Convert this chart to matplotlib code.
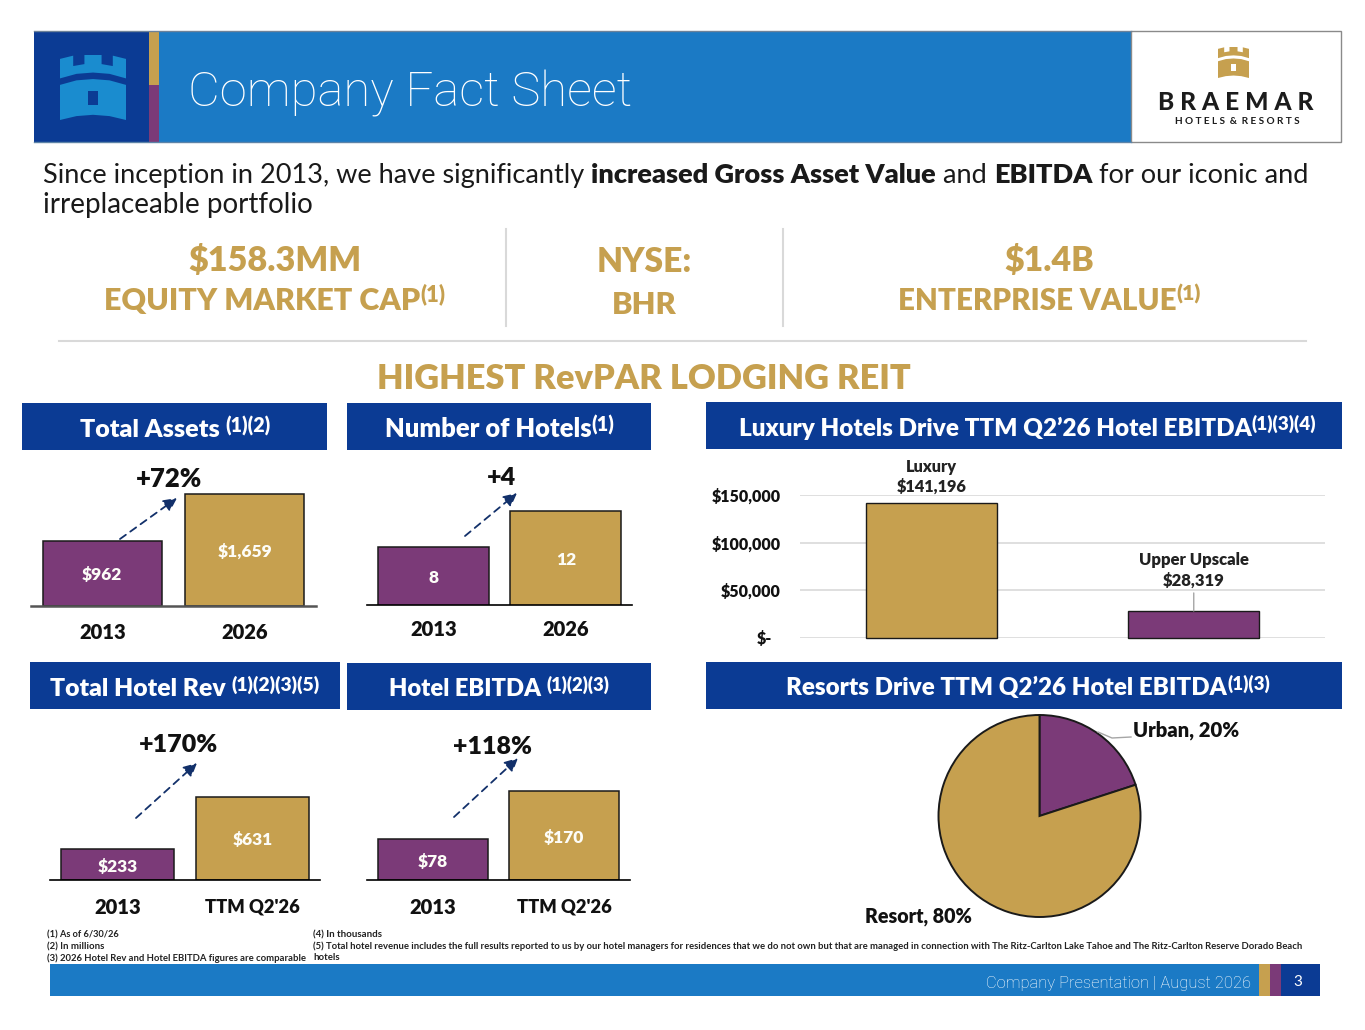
import matplotlib
matplotlib.use("Agg")
import matplotlib.pyplot as plt
from matplotlib.patches import Rectangle, Polygon
from matplotlib.transforms import ScaledTranslation

W, H = 1365, 1030
FONT = ['Lato', 'DejaVu Sans']
LIGHTFONT = ['Roboto', 'DejaVu Sans']
plt.rcParams['font.family'] = FONT

GOLD = '#c6a04f'
PURPLE = '#7b3a78'
NAVY = '#0b3b94'
BLUE = '#1b7ac5'
LIGHT = '#1a8ccf'
GREY = '#d9d9d9'
INK = '#111111'
WHITE = '#fdfdf8'
HEAVY = 800

# ---- data ----
assets_cats = ['2013', '2026']
assets_vals = [962, 1659]
assets_lbls = ['$962', '$1,659']
hotels_cats = ['2013', '2026']
hotels_vals = [8, 12]
hotels_lbls = ['8', '12']
rev_cats = ['2013', "TTM Q2'26"]
rev_vals = [233, 631]
rev_lbls = ['$233', '$631']
ebitda_cats = ['2013', "TTM Q2'26"]
ebitda_vals = [78, 170]
ebitda_lbls = ['$78', '$170']
seg_cats = ['Luxury', 'Upper Upscale']
seg_vals = [141196, 28319]
seg_lbls = ['$141,196', '$28,319']
seg_ticks = [0, 50000, 100000, 150000]
seg_ticklabels = ['$-', '$50,000', '$100,000', '$150,000']
pie_cats = ['Urban', 'Resort']
pie_vals = [20, 80]

fig = plt.figure(figsize=(W / 100, H / 100), dpi=100, facecolor='white')
renderer = fig.canvas.get_renderer()


def axpx(x0, y0, x1, y1, **kw):
    return fig.add_axes([x0 / W, 1 - y1 / H, (x1 - x0) / W, (y1 - y0) / H], **kw)


ov = axpx(0, 0, W, H, zorder=5)
ov.set_xlim(0, W)
ov.set_ylim(H, 0)
ov.axis('off')
ov.patch.set_alpha(0)


def rect(x0, y0, x1, y1, color, **kw):
    ov.add_patch(Rectangle((x0, y0), x1 - x0, y1 - y0, facecolor=color, edgecolor=kw.pop('edgecolor', 'none'), **kw))


def runs(x, y, parts, size, color=INK, ha='left', width=None, font=None):
    """parts: list of (string, weight, rel_size, dy_px, color or None)"""
    fam = font or FONT
    items = []
    for s, wt, rel, dy, c in parts:
        t = ov.text(0, y - dy, s, fontsize=size * rel, fontweight=wt, color=c or color,
                    va='center_baseline', ha='left', family=fam)
        items.append((t, rel))
    def widths():
        return [t.get_window_extent(renderer).width for t, _ in items]
    if width:
        k = width / sum(widths())
        for t, rel in items:
            t.set_fontsize(size * rel * k)
    ws = widths()
    tot = sum(ws)
    cx = x if ha == 'left' else x - tot / 2 if ha == 'center' else x - tot
    for (t, _), w in zip(items, ws):
        t.set_x(cx)
        cx += w


def one(x, y, s, size, weight='bold', color=INK, ha='left', width=None, font=None):
    runs(x, y, [(s, weight, 1, 0, None)], size, color, ha, width, font)


def castle(x, y, w, h, color, hole):
    def P(pts, c=color):
        ov.add_patch(Polygon([(x + a * w, y + b * h) for a, b in pts], closed=True, facecolor=c, edgecolor='none'))
    P([(0, .06), (.2, .01), (.2, .17), (.37, .14), (.37, 0), (.63, 0), (.63, .14), (.8, .17), (.8, .01), (1, .06),
       (1, .36), (.75, .29), (.5, .27), (.25, .29), (0, .36)])
    P([(0, .46), (.25, .39), (.5, .37), (.75, .39), (1, .46), (1, 1), (.75, .94), (.5, .92), (.25, .94), (0, 1)])
    P([(.42, .55), (.58, .55), (.58, .77), (.42, .77)], hole)


# ---- header ----
rect(34, 31, 1131, 142, BLUE)
ov.plot([34, 1131], [31, 31], color='#6d8299', lw=1)
ov.plot([34, 1131], [142, 142], color='#5d84a8', lw=1)
rect(34, 31, 149, 142, NAVY)
rect(149, 31, 159, 85, GOLD)
rect(149, 85, 159, 142, PURPLE)
castle(60, 55, 66, 65, LIGHT, NAVY)
one(188, 88, 'Company Fact Sheet', 34, weight='light', color='white', width=444, font=LIGHTFONT)
rect(1131, 31, 1341, 142, 'white', edgecolor='#8a8a8a', linewidth=1)
castle(1218, 47, 31, 31, GOLD, 'white')
one(1236, 101, 'B R A E M A R', 18, weight=900, color='#1c1c1c', ha='center', width=155)
one(1237, 120, 'H O T E L S  &  R E S O R T S', 7, color='#1c1c1c', ha='center', width=126)

# ---- intro ----
runs(43, 173, [('Since inception in 2013, we have significantly ', 'normal', 1, 0, None),
               ('increased Gross Asset Value', HEAVY, 1, 0, None),
               (' and ', 'normal', 1, 0, None),
               ('EBITDA', HEAVY, 1, 0, None),
               (' for our iconic and', 'normal', 1, 0, None)], 19, color='#1a1a1a', width=1266)
one(43, 203, 'irreplaceable portfolio', 19, weight='normal', color='#1a1a1a', width=270)

# ---- headline figures ----
one(275, 258, '$158.3MM', 25, weight=HEAVY, color=GOLD, ha='center', width=174)
runs(275, 298, [('EQUITY MARKET CAP', HEAVY, 1, 0, None), ('(1)', HEAVY, .72, 6, None)], 22, GOLD, 'center', 340)
one(644, 259, 'NYSE:', 25, weight=HEAVY, color=GOLD, ha='center', width=96)
one(644, 302, 'BHR', 25, weight=HEAVY, color=GOLD, ha='center', width=65)
one(1049, 258, '$1.4B', 25, weight=HEAVY, color=GOLD, ha='center', width=90)
runs(1049, 298, [('ENTERPRISE VALUE', HEAVY, 1, 0, None), ('(1)', HEAVY, .72, 6, None)], 22, GOLD, 'center', 302)
for xv in (506, 783):
    ov.plot([xv, xv], [229, 326], color=GREY, lw=1.5)
ov.plot([59, 1306], [341, 341], color=GREY, lw=1.5)
one(644, 376, 'HIGHEST RevPAR LODGING REIT', 26, weight=HEAVY, color=GOLD, ha='center', width=532)


# ---- section bars ----
def section(x0, y0, x1, y1, main, sup, cx, width, yt):
    rect(x0, y0, x1, y1, NAVY)
    runs(cx, yt, [(main, HEAVY, 1, 0, None), (sup, HEAVY, .78, 4, None)], 18, 'white', 'center', width)


section(22, 403, 327, 450, 'Total Assets ', '(1)(2)', 175, 190, 428)
section(347, 403, 651, 450, 'Number of Hotels', '(1)', 499.5, 229, 427)
section(706, 402, 1342, 449, 'Luxury Hotels Drive TTM Q2\u201926 Hotel EBITDA', '(1)(3)(4)', 1027.5, 577, 426)
section(30, 662, 340, 709, 'Total Hotel Rev ', '(1)(2)(3)(5)', 185, 270, 687)
section(347, 663, 651, 710, 'Hotel EBITDA ', '(1)(2)(3)', 499.5, 221, 687)
section(706, 662, 1342, 709, 'Resorts Drive TTM Q2\u201926 Hotel EBITDA', '(1)(3)', 1028, 482, 686)


# ---- small bar charts ----
def small_bars(box, ymin, ymax, cats, vals, lbls, bw, pad, base='black', base_lw=1.2):
    ax = axpx(*box)
    ax.bar(range(len(vals)), vals, width=bw, color=[PURPLE, GOLD], edgecolor='#1a1a1a', linewidth=1.1,
           bottom=0, zorder=2)
    ax.set_xlim(-.5, 1.5)
    ax.set_ylim(ymin, ymax)
    for s in ('top', 'left', 'right'):
        ax.spines[s].set_visible(False)
    ax.spines['bottom'].set_color(base)
    ax.spines['bottom'].set_linewidth(base_lw)
    ax.set_yticks([])
    ax.set_xticks(range(len(cats)), cats, fontsize=14.5, fontweight=HEAVY, color=INK)
    for tl, c in zip(ax.get_xticklabels(), cats):
        if len(c) > 4:
            tl.set_fontsize(13.2)
    ax.tick_params(axis='x', length=0, pad=pad)
    for i, (v, l) in enumerate(zip(vals, lbls)):
        ax.annotate(l, xy=(i, (v + ymin) / 2), xytext=(0, -1.5), textcoords='offset points', ha='center',
                    va='center', color=WHITE, fontweight=HEAVY, fontsize=12.5, zorder=3)
    ax.patch.set_alpha(0)
    return ax


small_bars((31, 486, 316, 606), 0, 1770, assets_cats, assets_vals, assets_lbls, .835, 12.5, '#555555', 1.8)
small_bars((367, 485, 632, 605), 1.55, 14.88, hotels_cats, hotels_vals, hotels_lbls, .84, 10.5)
small_bars((50, 760, 320, 880), 0, 909, rev_cats, rev_vals, rev_lbls, .84, 13)
small_bars((367, 760, 630, 880), 0, 229, ebitda_cats, ebitda_vals, ebitda_lbls, .84, 13)


def arrow(x0, y0, x1, y1, lw=1.3):
    ov.annotate('', xy=(x1, y1), xytext=(x0, y0),
                arrowprops=dict(arrowstyle='-|>,head_width=0.4,head_length=0.8', color='#12306a', lw=lw,
                                linestyle=(0, (4, 3)), shrinkA=0, shrinkB=0))


arrow(120, 539, 177, 498)
arrow(465, 536, 517, 493)
arrow(136, 818, 197, 763)
arrow(454, 817, 518, 758)
one(169, 477, '+72%', 19, weight=HEAVY, ha='center', width=66)
one(501, 476, '+4', 19, weight=HEAVY, ha='center', width=29)
one(179, 743, '+170%', 19, weight=HEAVY, ha='center', width=79)
one(492, 745, '+118%', 19, weight=HEAVY, ha='center', width=79)

# ---- luxury bar chart ----
ax = axpx(800, 495, 1325, 638)
ax.set_xlim(-.5, 1.5)
ax.set_ylim(0, 150000)
bars = ax.bar(range(2), seg_vals, width=.5, color=[GOLD, PURPLE], edgecolor='#1a1a1a', linewidth=1, zorder=3)
for b in bars:
    b.set_clip_on(False)
for s in ax.spines.values():
    s.set_visible(False)
ax.set_xticks([])
ax.set_yticks(seg_ticks, seg_ticklabels, fontsize=11.5, fontweight=HEAVY, color=INK)
ax.tick_params(axis='y', length=0, pad=14)
zero_lbl = ax.get_yticklabels()[0]
zero_lbl.set_transform(zero_lbl.get_transform() + ScaledTranslation(-6 / 72, 0, fig.dpi_scale_trans))
ax.grid(axis='y', color=GREY, lw=1.2, zorder=0)
ax.set_axisbelow(True)
ax.patch.set_alpha(0)
ax.annotate(f'{seg_cats[0]}\n{seg_lbls[0]}', xy=(0, seg_vals[0]), xytext=(0, 6), textcoords='offset points',
            ha='center', va='bottom', fontsize=11.8, fontweight=HEAVY, color='#222222', annotation_clip=False,
            linespacing=1.3)
ax.annotate(f'{seg_cats[1]}\n{seg_lbls[1]}', xy=(1, seg_vals[1]), xytext=(0, 16), textcoords='offset points',
            ha='center', va='bottom', fontsize=12, fontweight=HEAVY, color='#222222',
            arrowprops=dict(arrowstyle='-', color='#a6a6a6', lw=1, shrinkA=1, shrinkB=0), linespacing=1.3)

# ---- pie ----
pa = axpx(1039.5 - 101, 816 - 101, 1039.5 + 101, 816 + 101)
pa.pie(pie_vals, colors=[PURPLE, GOLD], startangle=90, counterclock=False, radius=1,
       wedgeprops=dict(edgecolor='#1a1a1a', linewidth=1.4))
pa.set_xlim(-1, 1)
pa.set_ylim(-1, 1)
for p in pa.patches:
    p.set_clip_on(False)
ov.plot([1098, 1112, 1131], [732, 738, 737], color='#a6a6a6', lw=1)
one(1133, 729, f'{pie_cats[0]}, {pie_vals[0]}%', 15, weight=HEAVY, ha='left', width=107)
one(918, 915, f'{pie_cats[1]}, {pie_vals[1]}%', 15, weight=HEAVY, ha='center', width=108)

# ---- footnotes ----
for yy, s, wd in [(934, '(1) As of 6/30/26', 72), (946, '(2) In millions', 57),
                  (957, '(3) 2026 Hotel Rev and Hotel EBITDA figures are comparable', 259)]:
    one(47, yy, s, 6.5, width=wd, color='#222222')
one(313, 934, '(4) In thousands', 6.5, width=69, color='#222222')
one(313, 945, '(5) Total hotel revenue includes the full results reported to us by our hotel managers for residences '
              'that we do not own but that are managed in connection with The Ritz-Carlton Lake Tahoe and '
              'The Ritz-Carlton Reserve Dorado Beach', 6.5, width=990, color='#222222')
one(313, 956, 'hotels', 6.5, width=26, color='#222222')

# ---- footer ----
rect(50, 964, 1320, 996, BLUE)
rect(1259, 964, 1270, 996, GOLD)
rect(1270, 964, 1281, 996, PURPLE)
rect(1281, 964, 1320, 996, NAVY)
one(1251, 982, 'Company Presentation | August 2026', 11, weight='light', color='white', ha='right', width=263,
    font=LIGHTFONT)
one(1298, 981, '3', 11, weight='normal', color='white', ha='center')

fig.savefig('out.png', dpi=100, facecolor='white')
